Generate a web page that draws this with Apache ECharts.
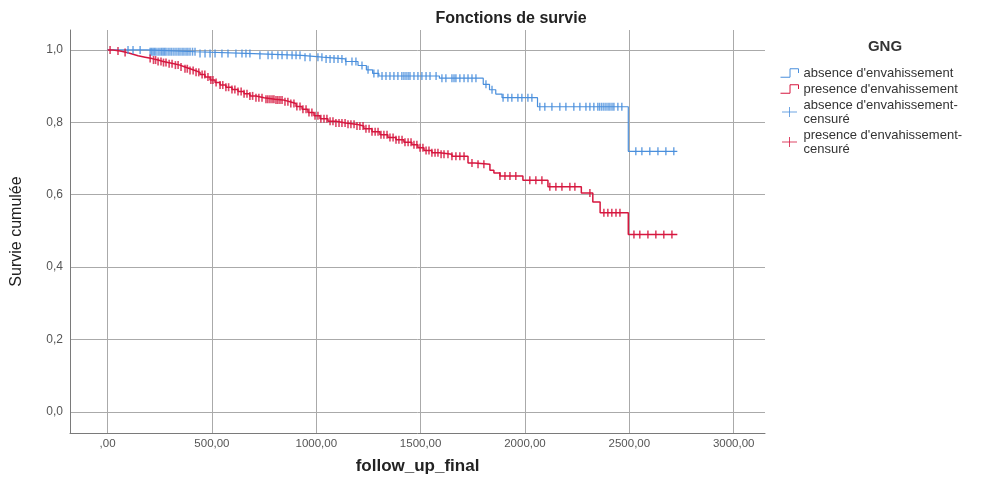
<!DOCTYPE html>
<html>
<head>
<meta charset="utf-8">
<script src="https://cdn.jsdelivr.net/npm/echarts@6/dist/echarts.min.js"></script>
<style>
  html, body { margin: 0; padding: 0; background: #ffffff; }
  #chart { width: 995px; height: 484px; }
</style>
</head>
<body>
<div id="chart"></div>
<script>
// Kaplan-Meier survival by GNG group (follow_up_final, days)
const xTicks = [0, 500, 1000, 1500, 2000, 2500, 3000];
const yTicks = [0, 0.2, 0.4, 0.6, 0.8, 1.0];

// absence d'envahissement: event times and survival after each step
const absenceTimes = [0, 190, 420, 700, 930, 1030, 1140, 1200, 1240, 1270, 1300, 1590, 1800, 1830, 1860, 1890, 2060, 2495];
const absenceSurv  = [1, 0.995, 0.99, 0.985, 0.98, 0.975, 0.968, 0.957, 0.945, 0.935, 0.928, 0.922, 0.905, 0.89, 0.878, 0.868, 0.843, 0.72];
const absenceEnd = 2730;
const absenceCensored = [98, 122, 156, 204, 211, 218, 225, 232, 242, 251, 259, 266, 273, 280, 290, 299, 308, 318, 328, 338, 347, 357, 366, 376, 385, 395, 407, 419, 443, 467, 491, 515, 548, 577, 615, 644, 663, 682, 730, 769, 788, 816, 836, 860, 884, 903, 922, 946, 970, 1008, 1027, 1047, 1066, 1085, 1104, 1123, 1142, 1171, 1190, 1219, 1248, 1276, 1296, 1315, 1334, 1353, 1372, 1391, 1410, 1420, 1430, 1440, 1449, 1468, 1487, 1506, 1526, 1545, 1574, 1602, 1621, 1650, 1660, 1669, 1688, 1708, 1727, 1746, 1765, 1813, 1842, 1895, 1918, 1937, 1966, 1985, 2014, 2033, 2071, 2095, 2129, 2167, 2196, 2234, 2263, 2292, 2311, 2330, 2349, 2358, 2368, 2378, 2388, 2398, 2407, 2417, 2426, 2445, 2464, 2531, 2560, 2598, 2637, 2675, 2713];

// presence d'envahissement
const presenceTimes = [0, 26, 60, 93, 122, 146, 180, 213, 242, 266, 290, 318, 347, 371, 395, 419, 443, 467, 491, 515, 539, 567, 596, 625, 654, 682, 711, 750, 802, 840, 874, 903, 932, 960, 989, 1018, 1056, 1094, 1142, 1190, 1228, 1267, 1305, 1343, 1382, 1420, 1458, 1487, 1516, 1554, 1592, 1650, 1727, 1760, 1832, 1851, 1880, 1990, 2110, 2270, 2325, 2360, 2495];
const presenceSurv  = [1, 0.997, 0.993, 0.988, 0.984, 0.98, 0.976, 0.972, 0.968, 0.965, 0.962, 0.958, 0.953, 0.948, 0.943, 0.938, 0.932, 0.925, 0.917, 0.91, 0.903, 0.897, 0.891, 0.885, 0.879, 0.873, 0.868, 0.864, 0.862, 0.857, 0.852, 0.844, 0.836, 0.827, 0.818, 0.81, 0.803, 0.798, 0.795, 0.79, 0.782, 0.774, 0.766, 0.758, 0.752, 0.745, 0.738, 0.73, 0.722, 0.716, 0.712, 0.706, 0.688, 0.684, 0.668, 0.66, 0.652, 0.64, 0.622, 0.605, 0.58, 0.55, 0.49];
const presenceEnd = 2730;
const presenceCensored = [12, 50, 84, 204, 220, 230, 242, 256, 268, 280, 295, 309, 325, 338, 352, 371, 382, 395, 410, 424, 437, 453, 466, 481, 495, 505, 520, 539, 552, 567, 580, 596, 610, 625, 640, 654, 668, 682, 695, 711, 725, 740, 759, 768, 778, 788, 797, 807, 816, 826, 836, 850, 864, 878, 893, 907, 922, 936, 951, 965, 979, 994, 1008, 1022, 1037, 1051, 1066, 1080, 1094, 1109, 1123, 1138, 1152, 1166, 1181, 1195, 1209, 1224, 1238, 1253, 1267, 1282, 1296, 1310, 1324, 1339, 1353, 1368, 1382, 1396, 1411, 1425, 1440, 1454, 1468, 1482, 1497, 1511, 1526, 1540, 1554, 1569, 1583, 1598, 1612, 1631, 1650, 1669, 1688, 1708, 1746, 1775, 1803, 1880, 1904, 1928, 1956, 2023, 2052, 2081, 2119, 2148, 2177, 2215, 2239, 2311, 2378, 2397, 2416, 2436, 2455, 2522, 2550, 2589, 2627, 2665, 2704];

const seriesNames = [
  "absence d'envahissement",
  "presence d'envahissement",
  "absence d'envahissement-censuré",
  "presence d'envahissement-censuré"
];
const BLUE = '#4a8fdc';
const RED = '#d6173f';

function stepData(times, surv, end) {
  const d = times.map((t, i) => [t, surv[i]]);
  d.push([end, surv[surv.length - 1]]);
  return d;
}
function survAt(times, surv, t) {
  let s = surv[0];
  for (let i = 0; i < times.length; i++) { if (times[i] <= t) s = surv[i]; }
  return s;
}
function censorData(cens, times, surv) {
  return cens.map(t => [t, survAt(times, surv, t)]);
}

const stepIcon = 'path://M0,9 L9,9 L9,1 L17,1 L17,5';
const censorIcon = 'path://M0,6 L18,6 M9,0 L9,12';
const FONT = '"Liberation Sans", Arial, sans-serif';

const chart = echarts.init(document.getElementById('chart'), null, { renderer: 'canvas' });
chart.setOption({
  animation: false,
  backgroundColor: '#ffffff',
  textStyle: { fontFamily: FONT },
  title: [
    { text: 'Fonctions de survie', left: 506, textAlign: 'center', top: 6,
      textStyle: { fontSize: 16, fontWeight: 'bold', color: '#222', fontFamily: FONT } },
    { text: 'GNG', left: 880, textAlign: 'center', top: 34,
      textStyle: { fontSize: 15, fontWeight: 'bold', color: '#333', fontFamily: FONT } }
  ],
  legend: {
    orient: 'vertical',
    left: 780,
    top: 66,
    padding: 0,
    itemWidth: 18,
    itemHeight: 10,
    itemGap: 2,
    selectedMode: false,
    textStyle: { fontSize: 13, color: '#333', lineHeight: 14, fontFamily: FONT },
    formatter: n => n.replace('-', '-\n'),
    data: [
      { name: seriesNames[0], icon: stepIcon, itemStyle: { color: 'transparent', borderColor: BLUE, borderWidth: 1 } },
      { name: seriesNames[1], icon: stepIcon, itemStyle: { color: 'transparent', borderColor: RED, borderWidth: 1 } },
      { name: seriesNames[2], icon: censorIcon, itemStyle: { color: 'transparent', borderColor: BLUE, borderWidth: 1 } },
      { name: seriesNames[3], icon: censorIcon, itemStyle: { color: 'transparent', borderColor: RED, borderWidth: 1 } }
    ]
  },
  grid: { left: 70, right: 230, top: 30, bottom: 51, containLabel: false },
  xAxis: {
    type: 'value',
    min: -180,
    max: 3150,
    name: 'follow_up_final',
    nameLocation: 'middle',
    nameGap: 25,
    nameTextStyle: { fontSize: 17, fontWeight: 'bold', color: '#222', fontFamily: FONT },
    axisLine: { show: true, onZero: false, lineStyle: { color: '#7a7a7a', width: 1 } },
    axisTick: { show: false, customValues: xTicks },
    axisLabel: {
      customValues: xTicks,
      margin: 5,
      fontSize: 11.5,
      color: '#555',
      formatter: v => (v === 0 ? '' : String(v)) + ',00'
    },
    splitLine: { show: true, lineStyle: { color: '#aaaaaa', width: 1 } }
  },
  yAxis: {
    type: 'value',
    min: -0.058,
    max: 1.055,
    name: 'Survie cumulée',
    nameLocation: 'middle',
    nameGap: 45,
    nameTextStyle: { fontSize: 16, color: '#222', fontFamily: FONT },
    axisLine: { show: true, onZero: false, lineStyle: { color: '#7a7a7a', width: 1 } },
    axisTick: { show: false, customValues: yTicks },
    axisLabel: {
      customValues: yTicks,
      margin: 7,
      fontSize: 12,
      color: '#555',
      formatter: v => v.toFixed(1).replace('.', ',')
    },
    splitLine: { show: true, lineStyle: { color: '#aaaaaa', width: 1 } }
  },
  series: [
    {
      name: seriesNames[0], type: 'line', step: 'end', showSymbol: false,
      lineStyle: { color: BLUE, width: 1.2 }, itemStyle: { color: BLUE },
      data: stepData(absenceTimes, absenceSurv, absenceEnd), z: 3
    },
    {
      name: seriesNames[1], type: 'line', step: 'end', showSymbol: false,
      lineStyle: { color: RED, width: 1.5 }, itemStyle: { color: RED },
      data: stepData(presenceTimes, presenceSurv, presenceEnd), z: 3
    },
    {
      name: seriesNames[2], type: 'scatter', symbol: 'rect', symbolSize: [1.5, 8],
      itemStyle: { color: BLUE },
      data: censorData(absenceCensored, absenceTimes, absenceSurv), z: 4
    },
    {
      name: seriesNames[3], type: 'scatter', symbol: 'rect', symbolSize: [1.6, 8],
      itemStyle: { color: RED },
      data: censorData(presenceCensored, presenceTimes, presenceSurv), z: 4
    }
  ]
});
</script>
</body>
</html>
